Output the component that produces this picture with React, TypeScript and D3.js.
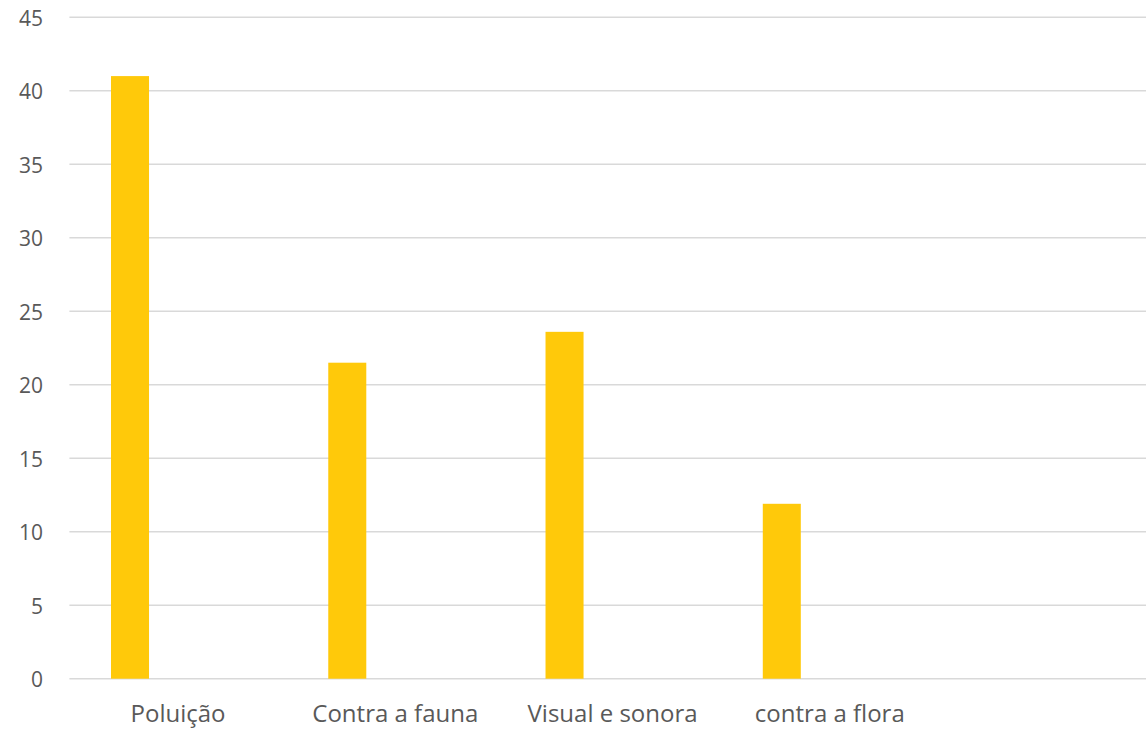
import React from "react";
import * as d3 from "d3";

const categories = ["Poluição", "Contra a fauna", "Visual e sonora", "contra a flora", ""];
const values: (number | null)[] = [41, 21.5, 23.6, 11.9, null];
const yTicks = [0, 5, 10, 15, 20, 25, 30, 35, 40, 45];

const W = 1146;
const H = 733;
const plotLeft = 69.4;
const plotRight = 1155.7;
const plotTop = 17.3;
const plotBottom = 678.7;

export default function App() {
  const x = d3.scaleBand<string>().domain(categories.map((c, i) => i + "|" + c)).range([plotLeft, plotRight]).padding(0);
  const y = d3.scaleLinear().domain([0, 45]).range([plotBottom, plotTop]);
  const bw = x.bandwidth();
  const barOffset = bw * 0.1915;
  const barW = bw * 0.175;
  const font = "'Open Sans', sans-serif";
  return (
    <svg width={W} height={H} style={{ position: "absolute", left: 0, top: 0, background: "#fff" }}>
      {yTicks.map((t) => (
        <g key={t}>
          <line x1={plotLeft} x2={W} y1={y(t)} y2={y(t)} stroke="#d9d9d9" strokeWidth={1.5} />
          <text x={43} y={y(t) + 3} textAnchor="end" dominantBaseline="middle" fontFamily={font} fontSize={21} fill="#595959">
            {t}
          </text>
        </g>
      ))}
      {categories.map((c, i) => {
        const v = values[i];
        const bx = x(i + "|" + c)!;
        return (
          <g key={i}>
            {v != null && (
              <rect x={bx + barOffset} y={y(v)} width={barW} height={y(0) - y(v)} fill="#FFC90A" />
            )}
            <text x={bx + bw / 2} y={716} textAnchor="middle" dominantBaseline="middle" fontFamily={font} fontSize={24} fill="#595959">
              {c}
            </text>
          </g>
        );
      })}
    </svg>
  );
}
